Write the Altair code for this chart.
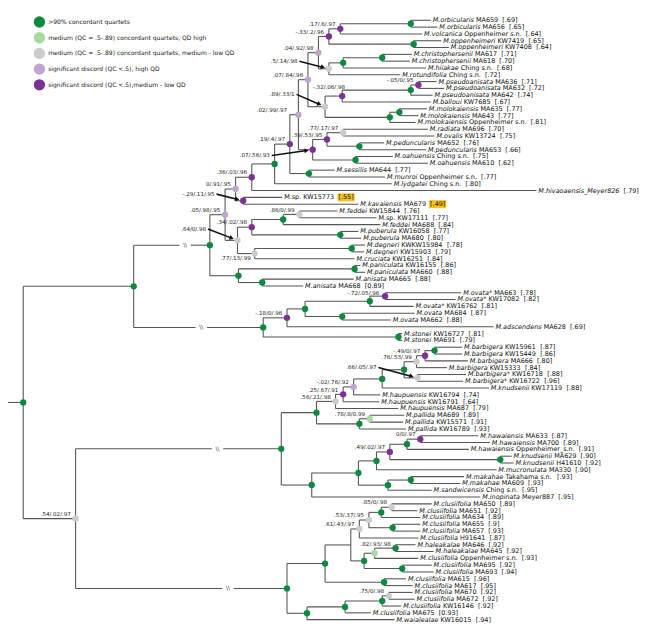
import math
import altair as alt
import pandas as pd

# ---------------- data ----------------
species = ["M.orbicularis", "M.orbicularis", "M.volcanica", "M.oppenheimeri", "M.oppenheimeri",
           "M.christophersenii", "M.christophersenii", "M.hiiakae", "M.rotundifolia",
           "M.pseudoanisata", "M.pseudoanisata", "M.pseudoanisata", "M.balloui",
           "M.molokaiensis", "M.molokaiensis", "M.molokaiensis", "M.radiata", "M.ovalis",
           "M.peduncularis", "M.peduncularis", "M.oahuensis", "M.oahuensis", "M.sessilis",
           "M.munroi", "M.lydgatei", "M.hivaoaensis_Meyer826", "", "M.kavaiensis", "M.feddei", "",
           "M.feddei", "M.puberula", "M.puberula", "M.degneri", "M.degneri", "M.cruciata",
           "M.paniculata", "M.paniculata", "M.anisata", "M.anisata", "M.ovata*", "M.ovata*",
           "M.ovata*", "M.ovata", "M.ovata", "M.adscendens", "M.stonei", "M.stonei",
           "M.barbigera", "M.barbigera", "M.barbigera", "M.barbigera", "M.barbigera*",
           "M.barbigera*", "M.knudsenii", "M.haupuensis", "M.haupuensis", "M.haupuensis",
           "M.pallida", "M.pallida", "M.pallida", "M.hawaiensis", "M.hawaiensis", "M.hawaiensis",
           "M.knudsenii", "M.knudsenii", "M.mucronulata", "M.makahae", "M.makahae",
           "M.sandwicensis", "M.inopinata",
           "M.clusiifolia", "M.clusiifolia", "M.clusiifolia", "M.clusiifolia", "M.clusiifolia",
           "M.clusiifolia", "M.haleakalae", "M.haleakalae",
           "M.clusiifolia", "M.clusiifolia", "M.clusiifolia", "M.clusiifolia", "M.clusiifolia",
           "M.clusiifolia", "M.clusiifolia", "M.clusiifolia", "M.clusiifolia", "M.waialealae"]

accession = ["MA659", "MA656", "Oppenheimer s.n.", "KW7419", "KW7408", "MA617", "MA618",
             "Ching s.n.", "Ching s.n.", "MA636", "MA632", "MA642", "KW7685", "MA635", "MA643",
             "Oppenheimer s.n.", "MA696", "KW13724", "MA652", "MA653", "Ching s.n.", "MA610",
             "MA644", "Oppenheimer s.n.", "Ching s.n.", "", "M.sp. KW15773", "MA679", "KW15844",
             "M.sp. KW17111", "MA688", "KW16058", "MA680", "KWKW15984", "KW15903", "KW16251",
             "KW16155", "MA660", "MA665", "MA668", "MA663", "KW17082", "KW16762", "MA684",
             "MA662", "MA628", "KW16727", "MA691", "KW15961", "KW15449", "MA666", "KW15333",
             "KW16718", "KW16722", "KW17119", "KW16794", "KW16791", "MA687", "MA689", "KW15571",
             "KW16789", "MA633", "MA700", "Oppenheimer_s.n.", "MA629", "H41610", "MA330",
             "Takahama s.n.", "MA609", "Ching s.n.", "Meyer887", "MA650", "MA651", "MA634",
             "MA655", "MA657", "H91641", "MA646", "MA645", "Oppenheimer s.n.", "MA695", "MA693",
             "MA615", "MA617", "MA670", "MA672", "KW16146", "MA675", "KW16015"]

scores = [".69", ".65", ".64", ".65", ".64", ".71", ".70", ".68", ".72", ".71", ".72", ".74",
          ".67", ".77", ".77", ".81", ".70", ".75", ".76", ".66", ".75", ".62", ".77", ".77",
          ".80", ".79", ".55", ".49", ".76", ".77", ".84", ".77", ".80", ".78", ".79", ".84",
          ".86", ".88", ".88", "0.89", ".78", ".82", ".81", ".87", ".88", ".69", ".81", ".79",
          ".87", ".86", ".80", ".84", ".88", ".96", ".88", ".74", ".64", ".79", ".89", ".91",
          ".93", ".87", ".89", ".91", ".90", ".92", ".90", ".93", ".93", ".95", ".95", ".89",
          ".92", ".89", ".9", ".93", ".87", ".92", ".92", ".93", ".92", ".94", ".96", ".95",
          ".92", ".92", ".92", "0.93", ".94"]

# tip depth (tree units)
tip_depth = [444, 451, 435, 455, 463, 424, 422, 439, 412, 450, 458, 446, 444, 440, 431, 428,
             441, 448, 395, 439, 404, 441, 343, 396, 403, 555, 288, 368, 346, 387, 391, 368,
             371, 375, 374, 364, 370, 375, 363, 310, 476, 470, 426, 427, 402, 510, 414, 414,
             477, 477, 483, 461, 481, 478, 505, 391, 390, 410, 416, 415, 418, 494, 506, 484,
             529, 531, 513, 479, 475, 445, 496, 445, 430, 433, 433, 433, 431, 428, 447, 431,
             445, 447, 418, 425, 425, 427, 413, 381, 406]

flagged = [26, 27]  # low-score leaves that are highlighted

categories = ["g", "lg", "gr", "lp", "dp"]
category_names = [">90% concordant quartets",
                  "medium (QC = .5-.89) concordant quartets, QD high",
                  "medium (QC = .5-.89) concordant quartets, medium - low QD",
                  "significant discord (QC <.5), high QD",
                  "significant discord (QC <.5),medium - low QD"]
category_colors = ["#0b8a3d", "#a6dba0", "#cccccc", "#c2a5cf", "#7b3294"]


def N(x, cat, qc, *kids, brk=None):
    return {"x": x, "cat": cat, "qc": qc, "kids": list(kids), "brk": brk}


tree = N(16, "g", None,
  N(132, "g", None,
    N(212, "g", None,
      N(228, "lp", ".05/.98/.95",
        N(239, "lp", "0/.91/.95",
          N(256, "dp", ".36/.03/.96",
            N(280, "g", None,
              N(296, "dp", ".19/.4/.97",
                N(305, "lp", ".02/.99/.97",
                  N(315, "lp", ".07/.84/.96",
                    N(326, "lp", ".04/.92/.98",
                      N(337, "dp", "-.33/.2/.96",
                        N(349, "dp", ".17/.6/.97",
                          N(423, "g", None, 0, 1),
                          2),
                        N(426, "g", None, 3, 4)),
                      N(337, "gr", ".5/.14/.98",
                        N(352, "g", None,
                          N(393, "g", None, 5, 6),
                          7),
                        8)),
                    N(333, "gr", ".89/.33/1",
                      N(351, "dp", "-.32/.06/.98",
                        N(423, "g", None,
                          N(431, "dp", "-.05/0/.95", 9, 10),
                          11),
                        12),
                      N(401, "g", None,
                        N(411, "g", None, 13, 14),
                        15))),
                  N(320, "dp", ".07/.56/.93",
                    N(335, "dp", ".39/.53/.95",
                      N(352, "gr", ".77/.17/.97", 16, 17),
                      N(369, "g", None, 18, 19)),
                    N(365, "g", None, 20, 21))),
                N(316, "g", None, 22, 23)),
              24),
            25),
          N(247, "dp", "-.29/.11/.95", 26, 27)),
        N(241, "gr", ".64/0/.98",
          N(256, "dp", ".34/.02/.98",
            N(289, "g", None,
              N(306, "gr", ".86/0/.99", 28, 29),
              30),
            N(349, "g", None, 31, 32)),
          N(259, "gr", ".77/.13/.99",
            N(361, "g", None, 33, 34),
            35))),
      N(242, "g", None,
        N(364, "g", None, 36, 37),
        N(267, "g", None, 38, 39)),
      brk=186),
    N(268, "g", None,
      N(293, "dp", "-.18/0/.96",
        N(312, "g", None,
          N(380, "g", None,
            N(396, "dp", "-.72/.05/.96", 40, 41),
            42),
          N(351, "g", None, 43, 44)),
        45),
      N(410, "g", None, 46, 47),
      brk=203)),
  N(71, "gr", ".54/.02/.97",
    N(287, "g", None,
      N(324, "g", None,
        N(344, "gr", ".56/.21/.98",
          N(352, "dp", ".25/.67/.91",
            N(363, "lp", "-.02/.76/.92",
              N(393, "g", None,
                N(416, "g", None,
                  N(429, "gr", ".76/.53/.99",
                    N(438, "dp", "-.49/0/.97",
                      N(448, "g", None, 48, 49),
                      50),
                    51),
                  N(430, "gr", ".66/.05/.97", 52, 53)),
                54),
              55),
            56),
          57),
        N(369, "g", None,
          N(380, "lg", ".78/.8/0.99", 58, 59),
          60)),
      N(319, "g", None,
        N(368, "g", None,
          N(387, "g", None,
            N(401, "dp", ".49/.02/.97",
              N(419, "g", None,
                N(433, "dp", "0/0/.97", 61, 62),
                63),
              N(517, "g", None, 64, 65)),
            66),
          N(399, "g", None,
            N(423, "g", None, 67, 68),
            69)),
        70),
      brk=220),
    N(293, "g", None,
      N(333, "g", None,
        N(360, None, None,
          N(369, "gr", ".61/.43/.97",
            N(379, "gr", ".53/.37/.95",
              N(392, "g", None,
                N(403, "gr", ".85/0/.98", 71, 72),
                73),
              N(404, "g", None, 74, 75)),
            76),
          N(374, "g", None,
            N(385, "lg", ".82/.93/.98",
              N(407, "g", None, 77, 78),
              79),
            N(414, "g", None, 80, 81))),
        N(395, "g", None, 82, 83)),
      N(314, "g", None,
        N(354, "g", None,
          N(393, "g", None,
            N(400, "gr", ".75/0/.98", 84, 85),
            86),
          87),
        88),
      brk=231)))

# ---------------- layout helpers ----------------
W_PX, H_PX = 645, 623
DOM_X, DOM_Y = 661, 639
SX = W_PX / DOM_X
FS_LEAF, FS_QC, FS_LEG = 6.6, 5.7, 6.2
FONT = "DejaVu Sans"

CW = {' ': .318, '\u00a0': .318, '.': .318, ',': .318, '*': .5, '[': .39, ']': .39, '_': .5,
      '(': .39, ')': .39, '/': .337, '-': .361, '<': .838, '=': .838, '>': .838, '%': .95}
for d in "0123456789":
    CW[d] = .636
CW.update({'A': .684, 'B': .686, 'C': .698, 'D': .770, 'E': .632, 'F': .575, 'G': .775, 'H': .752,
           'I': .295, 'J': .295, 'K': .656, 'L': .557, 'M': .863, 'N': .748, 'O': .787, 'P': .603,
           'Q': .787, 'R': .695, 'S': .635, 'T': .611, 'U': .732, 'V': .684, 'W': .989, 'X': .685,
           'Y': .611, 'Z': .685, 'a': .613, 'b': .635, 'c': .550, 'd': .635, 'e': .615, 'f': .352,
           'g': .635, 'h': .634, 'i': .278, 'j': .278, 'k': .579, 'l': .278, 'm': .974, 'n': .634,
           'o': .612, 'p': .635, 'q': .635, 'r': .411, 's': .521, 't': .392, 'u': .634, 'v': .592,
           'w': .818, 'x': .592, 'y': .592, 'z': .525})


def tw(s, fs):
    """text width in data units"""
    return sum(CW.get(c, .6) for c in s) * fs / SX


leaf_y = [5 + i * 630 / 88 for i in range(len(species))]

segs, dots, qcs, breaks = [], [], [], []


def layout(n):
    if isinstance(n, int):
        return tip_depth[n], leaf_y[n]
    pos = [layout(k) for k in n["kids"]]
    y = (pos[0][1] + pos[-1][1]) / 2
    segs.append({"x": n["x"], "y": pos[0][1], "x2": n["x"], "y2": pos[-1][1]})
    for k, (cx, cy) in zip(n["kids"], pos):
        b = k["brk"] if isinstance(k, dict) else None
        if b:
            segs.append({"x": n["x"], "y": cy, "x2": b - 6, "y2": cy})
            segs.append({"x": b + 6, "y": cy, "x2": cx, "y2": cy})
            breaks.append({"x": b, "y": cy, "t": "\\\\"})
        else:
            segs.append({"x": n["x"], "y": cy, "x2": cx, "y2": cy})
    if n["cat"]:
        dots.append({"x": n["x"], "y": y, "cat": n["cat"]})
    if n["qc"]:
        qcs.append({"x": n["x"], "y": y, "t": n["qc"]})
    return n["x"], y


rx, ry = layout(tree)
segs.append({"x": 0, "y": ry, "x2": rx, "y2": ry})

# placement of QC annotations (relative to node)
label_shift = {".77/.13/.99": (-4, 5), "-.32/.06/.98": (3, -10), ".82/.93/.98": (17, -10),
               ".02/.99/.97": (-12, -5), "-.72/.05/.96": (-6, -3)}
arrow_shift = {".5/.14/.98": (-33, -8), ".89/.33/1": (-32, -13), ".07/.56/.93": (-45, 6),
               "-.29/.11/.95": (-30, -7), ".64/0/.98": (-33, -12), ".66/.05/.97": (-43, -11)}

qc_rows, arrows, heads = [], [], []
for q in qcs:
    if q["t"] in arrow_shift:
        ox, oy = arrow_shift[q["t"]]
        tx, ty = q["x"] + ox, q["y"] + oy
        qc_rows.append({"x": tx, "y": ty, "t": q["t"]})
        sx0, sy0 = tx + 2, ty
        dx, dy = q["x"] - sx0, q["y"] - sy0
        L = math.hypot(dx, dy)
        ux, uy = dx / L, dy / L
        ex, ey = q["x"] - 6.5 * ux, q["y"] - 6.5 * uy
        arrows.append({"x": sx0, "y": sy0, "x2": ex - 1.5 * ux, "y2": ey - 1.5 * uy})
        heads.append({"x": ex, "y": ey, "a": math.degrees(math.atan2(dy, dx)) % 360})
    else:
        ox, oy = label_shift.get(q["t"], (-5, -5))
        qc_rows.append({"x": q["x"] + ox, "y": q["y"] + oy, "t": q["t"]})

# leaf labels
ital, reg, scr, hl = [], [], [], []
for i in range(len(species)):
    x0 = tip_depth[i] + 2
    y = leaf_y[i]
    sp, acc, sc = species[i], accession[i], "[" + scores[i] + "]"
    if sp:
        ital.append({"x": x0, "y": y, "t": sp})
    if acc:
        ax = x0 + (tw(sp + " ", FS_LEAF) if sp else 0)
        reg.append({"x": ax, "y": y, "t": acc})
        sx_ = ax + tw(acc + "  ", FS_LEAF)
    else:
        sx_ = x0 + tw(sp + "  ", FS_LEAF)
    scr.append({"x": sx_, "y": y, "t": sc})
    if i in flagged:
        hl.append({"x": sx_ - 1, "x2": sx_ + tw(sc, FS_LEAF) + 1, "y": y - 4.2, "y2": y + 4.2})

legend_rows = [{"x": 33, "y": 6.8 + 16.5 * k, "cat": c, "t": category_names[k]}
               for k, c in enumerate(categories)]

# ---------------- chart ----------------
xs = alt.Scale(domain=[0, DOM_X], nice=False, zero=False)
ys = alt.Scale(domain=[0, DOM_Y], nice=False, zero=False, reverse=True)
cs = alt.Scale(domain=categories, range=category_colors)
X = alt.X("x:Q", scale=xs, axis=None)
Y = alt.Y("y:Q", scale=ys, axis=None)

lines = alt.Chart(pd.DataFrame(segs)).mark_rule(color="#555555", strokeWidth=1.1).encode(
    x=X, y=Y, x2="x2:Q", y2="y2:Q")
brk_txt = alt.Chart(pd.DataFrame(breaks)).mark_text(
    font=FONT, fontSize=6, color="#333333", align="center", baseline="middle").encode(
    x=X, y=Y, text="t:N")
arrow_lines = alt.Chart(pd.DataFrame(arrows)).mark_rule(color="#111111", strokeWidth=1.6).encode(
    x=X, y=Y, x2="x2:Q", y2="y2:Q")
arrow_heads = alt.Chart(pd.DataFrame(heads)).mark_point(
    shape="triangle-right", filled=True, color="#111111", opacity=1, size=26).encode(
    x=X, y=Y, angle=alt.Angle("a:Q", scale=None))
node_dots = alt.Chart(pd.DataFrame(dots)).mark_circle(size=42, opacity=1).encode(
    x=X, y=Y, color=alt.Color("cat:N", scale=cs, legend=None))
qc_txt = alt.Chart(pd.DataFrame(qc_rows)).mark_text(
    font=FONT, fontSize=FS_QC, color="#222222", align="right", baseline="middle").encode(
    x=X, y=Y, text="t:N")
hl_rect = alt.Chart(pd.DataFrame(hl)).mark_rect(color="#f6c21c").encode(
    x=X, y=Y, x2="x2:Q", y2="y2:Q")
ital_txt = alt.Chart(pd.DataFrame(ital)).mark_text(
    font=FONT, fontSize=FS_LEAF, fontStyle="italic", color="#111111", align="left",
    baseline="middle").encode(x=X, y=Y, text="t:N")
reg_txt = alt.Chart(pd.DataFrame(reg)).mark_text(
    font=FONT, fontSize=FS_LEAF, color="#111111", align="left", baseline="middle").encode(
    x=X, y=Y, text="t:N")
scr_txt = alt.Chart(pd.DataFrame(scr)).mark_text(
    font=FONT, fontSize=FS_LEAF, color="#111111", align="left", baseline="middle").encode(
    x=X, y=Y, text="t:N")
leg_dots = alt.Chart(pd.DataFrame(legend_rows)).mark_circle(size=135, opacity=1).encode(
    x=X, y=Y, color=alt.Color("cat:N", scale=cs, legend=None))
leg_txt = alt.Chart(pd.DataFrame(legend_rows)).mark_text(
    font=FONT, fontSize=FS_LEG, color="#222222", align="left", baseline="middle", dx=9).encode(
    x=X, y=Y, text="t:N")

chart = alt.layer(
    lines, brk_txt, arrow_lines, arrow_heads, node_dots, qc_txt, hl_rect,
    ital_txt, reg_txt, scr_txt, leg_dots, leg_txt
).properties(
    width=W_PX, height=H_PX,
    padding={"left": 0, "top": 0, "right": 16, "bottom": 0},
    autosize=alt.AutoSizeParams(type="none")
).configure_view(stroke=None)

chart.save("out.html", embed_options={"renderer": "svg", "actions": False})
